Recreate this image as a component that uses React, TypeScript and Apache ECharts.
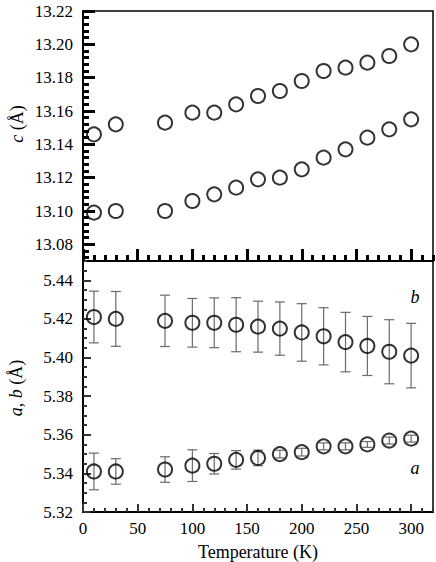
import React, { useEffect, useRef } from 'react';
import * as echarts from 'echarts';

// Temperatures (K)
const temps = [10, 30, 75, 100, 120, 140, 160, 180, 200, 220, 240, 260, 280, 300];
// c lattice parameter, two series (Å)
const cUpper = [13.146, 13.152, 13.153, 13.159, 13.159, 13.164, 13.169, 13.172, 13.178, 13.184, 13.186, 13.189, 13.193, 13.200];
const cLower = [13.099, 13.100, 13.100, 13.106, 13.110, 13.114, 13.119, 13.120, 13.125, 13.132, 13.137, 13.144, 13.149, 13.155];
// b lattice parameter and its error (Å)
const bVals = [5.421, 5.420, 5.419, 5.418, 5.418, 5.417, 5.416, 5.415, 5.413, 5.411, 5.408, 5.406, 5.403, 5.401];
const bErr = [0.0134, 0.0142, 0.0133, 0.0126, 0.0129, 0.014, 0.0132, 0.0138, 0.0149, 0.0148, 0.0154, 0.0153, 0.0166, 0.0167];
// a lattice parameter and its error (Å)
const aVals = [5.341, 5.341, 5.342, 5.344, 5.345, 5.347, 5.348, 5.350, 5.351, 5.354, 5.354, 5.355, 5.357, 5.358];
const aErr = [0.0095, 0.0066, 0.0066, 0.0082, 0.0053, 0.0048, 0.004, 0.002, 0.002, 0.0018, 0.0018, 0.0015, 0.0018, 0.0018];

// tick values
const range = (s: number, e: number, st: number) => {
  const out: number[] = [];
  const n = Math.round((e - s) / st);
  for (let i = 0; i <= n; i++) out.push(Math.round((s + i * st) * 1e6) / 1e6);
  return out;
};
const tMajor = range(0, 300, 50);
const tMinor = range(0, 320, 10);
const cMajor = range(13.08, 13.22, 0.02);
const cMinor = range(13.072, 13.22, 0.004);
const abMajor = range(5.32, 5.44, 0.02);
const abMinor = range(5.32, 5.45, 0.005);

const FONT = 'Liberation Serif';

export default function App() {
  const ref = useRef<HTMLDivElement>(null);
  useEffect(() => {
    if (!ref.current) return;
    const chart = echarts.init(ref.current, undefined, { renderer: 'svg' });
    const topTick = () => ({ color: '#000', width: 3 });
    const botTick = () => ({ color: '#333', width: 2 });
    const mainLine = () => ({ show: true, lineStyle: { color: '#000', width: 2 } });

    const xMain = (grid: number, labels: boolean) => ({
      type: 'value', gridIndex: grid, min: 0, max: 320,
      axisLine: mainLine(),
      axisTick: { show: true, inside: true, length: labels ? 8 : 12, customValues: tMajor, lineStyle: labels ? botTick() : topTick() },
      axisLabel: labels
        ? { show: true, customValues: tMajor, margin: 8, fontSize: 17, fontFamily: FONT, color: '#000' }
        : { show: false },
      splitLine: { show: false },
      name: labels ? 'Temperature (K)' : '',
      nameLocation: 'middle', nameGap: 31,
      nameTextStyle: { fontSize: 18, fontFamily: FONT, color: '#000' },
    });
    const xMinor = (grid: number, top: boolean) => ({
      type: 'value', gridIndex: grid, min: 0, max: 320,
      axisLine: { show: false },
      axisTick: { show: true, inside: true, length: top ? 6 : 4, customValues: tMinor, lineStyle: top ? topTick() : botTick() },
      axisLabel: { show: false },
      splitLine: { show: false },
    });
    const yMain = (grid: number, min: number, max: number, ticks: number[], top: boolean) => ({
      type: 'value', gridIndex: grid, min, max,
      axisLine: mainLine(),
      axisTick: { show: true, inside: true, length: top ? 12 : 8, customValues: ticks, lineStyle: top ? topTick() : botTick() },
      axisLabel: { show: true, customValues: ticks, margin: 10, fontSize: 17, fontFamily: FONT, color: '#000', formatter: (v: number) => v.toFixed(2) },
      splitLine: { show: false },
    });
    const yMinor = (grid: number, min: number, max: number, ticks: number[], top: boolean) => ({
      type: 'value', gridIndex: grid, min, max,
      axisLine: { show: false },
      axisTick: { show: true, inside: true, length: top ? 6 : 4, customValues: ticks, lineStyle: top ? topTick() : botTick() },
      axisLabel: { show: false },
      splitLine: { show: false },
    });

    const circle = {
      type: 'scatter', symbol: 'circle', symbolSize: 14,
      itemStyle: { color: 'rgba(0,0,0,0)', borderColor: '#000', borderWidth: 2 },
      z: 5,
    };
    const errBar = (vals: number[], errs: number[]) => ({
      type: 'custom', xAxisIndex: 1, yAxisIndex: 1, z: 3,
      data: temps.map((t, i) => [t, vals[i] - errs[i], vals[i] + errs[i]]),
      encode: { x: 0, y: [1, 2] },
      renderItem: (_p: any, api: any) => {
        const x = api.value(0);
        const lo = api.coord([x, api.value(1)]);
        const hi = api.coord([x, api.value(2)]);
        const w = 5;
        const style = { stroke: '#6a6a6a', lineWidth: 1.2 };
        return {
          type: 'group',
          children: [
            { type: 'line', shape: { x1: lo[0], y1: lo[1], x2: hi[0], y2: hi[1] }, style },
            { type: 'line', shape: { x1: lo[0] - w, y1: lo[1], x2: lo[0] + w, y2: lo[1] }, style },
            { type: 'line', shape: { x1: hi[0] - w, y1: hi[1], x2: hi[0] + w, y2: hi[1] }, style },
          ],
        };
      },
    });

    const italicRich = { i: { fontStyle: 'italic', fontFamily: FONT, fontSize: 18, color: '#000' }, n: { fontFamily: FONT, fontSize: 18, color: '#000' } };
    const gTop = { left: 83, right: 3, top: 11, height: 250 };
    const gBot = { left: 83, right: 3, top: 261, height: 251 };

    chart.setOption({
      animation: false,
      backgroundColor: '#fff',
      grid: [
        { ...gTop, show: true, borderColor: '#000', borderWidth: 1.5 },
        { ...gBot, show: true, borderColor: '#000', borderWidth: 1.5 },
        { ...gTop },
        { ...gBot },
      ],
      xAxis: [xMain(0, false), xMain(1, true), xMinor(2, true), xMinor(3, false)],
      yAxis: [
        yMain(0, 13.07, 13.22, cMajor, true),
        yMain(1, 5.32, 5.45, abMajor, false),
        yMinor(2, 13.07, 13.22, cMinor, true),
        yMinor(3, 5.32, 5.45, abMinor, false),
      ],
      graphic: [
        { type: 'text', x: 17, y: 124, rotation: Math.PI / 2, style: { text: '{i|c}{n| (Å)}', rich: italicRich, align: 'center', verticalAlign: 'middle', fontFamily: FONT, fontSize: 18 } },
        { type: 'text', x: 16, y: 388, rotation: Math.PI / 2, style: { text: '{i|a}{n|, }{i|b}{n| (Å)}', rich: italicRich, align: 'center', verticalAlign: 'middle', fontFamily: FONT, fontSize: 18 } },
        { type: 'text', x: 415, y: 297, style: { text: 'b', fontStyle: 'italic', fontFamily: FONT, fontSize: 18, fill: '#000', align: 'center', verticalAlign: 'middle' } },
        { type: 'text', x: 415, y: 468, style: { text: 'a', fontStyle: 'italic', fontFamily: FONT, fontSize: 18, fill: '#000', align: 'center', verticalAlign: 'middle' } },
      ],
      series: [
        { ...circle, name: 'c upper', xAxisIndex: 0, yAxisIndex: 0, data: temps.map((t, i) => [t, cUpper[i]]) },
        { ...circle, name: 'c lower', xAxisIndex: 0, yAxisIndex: 0, data: temps.map((t, i) => [t, cLower[i]]) },
        errBar(bVals, bErr),
        errBar(aVals, aErr),
        { ...circle, name: 'b', xAxisIndex: 1, yAxisIndex: 1, data: temps.map((t, i) => [t, bVals[i]]) },
        { ...circle, name: 'a', xAxisIndex: 1, yAxisIndex: 1, data: temps.map((t, i) => [t, aVals[i]]) },
      ],
    });
    return () => chart.dispose();
  }, []);
  return <div ref={ref} style={{ position: 'fixed', left: 0, top: 0, width: 436, height: 562 }} />;
}
